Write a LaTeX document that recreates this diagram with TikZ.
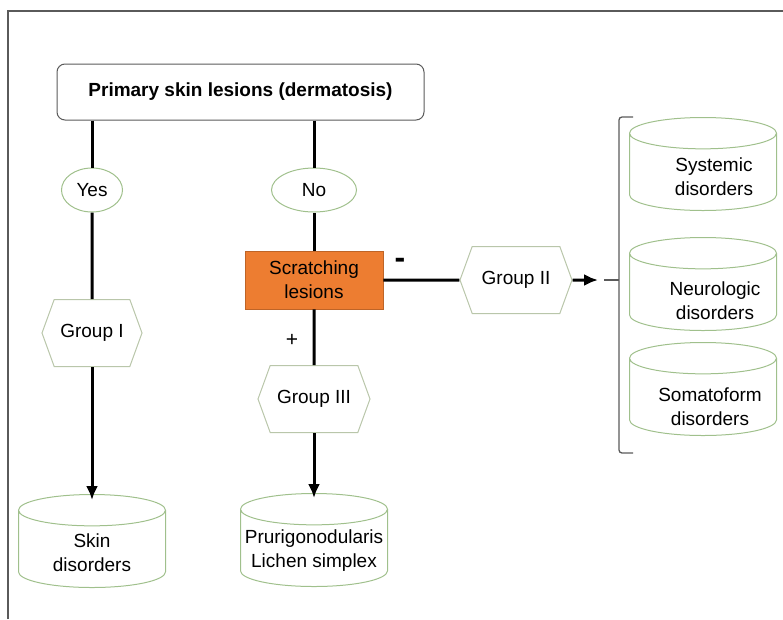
\documentclass[tikz,border=0pt]{standalone}
\usepackage{fontspec}
\setmainfont{Liberation Sans}
\usetikzlibrary{arrows.meta}
\usetikzlibrary{shapes.geometric}
\usetikzlibrary{shapes.symbols}
\tikzset{->/.style = {-{Latex[length=14pt, width=12pt]}}}
\definecolor{mgreen}{RGB}{160, 192, 140}
\definecolor{mhex}{RGB}{185, 198, 170}
\definecolor{morange}{RGB}{237, 125, 49}
\definecolor{mframe}{RGB}{90, 90, 90}
\tikzset{link/.style = {line width=3pt}}
\tikzset{titlebox/.style = {draw=mframe, line width=1pt, rounded corners=8pt,
                            minimum width=367pt, minimum height=56pt}}
\tikzset{answer/.style = {ellipse, draw=mgreen, line width=1pt, minimum height=44pt}}
\tikzset{groupbox/.style = {signal, signal to=west and east, signal pointer angle=140,
                            draw=mhex, line width=1pt, minimum height=67pt}}
\tikzset{scratch/.style = {fill=morange, draw=morange!80!black, line width=0.6pt,
                           minimum width=138pt, minimum height=58pt, align=center}}
\tikzset{cyl/.style = {cylinder, shape border rotate=90, aspect=4.7, draw=mgreen,
                       line width=1pt, minimum width=147pt, minimum height=93pt,
                       anchor=shape center}}
\tikzset{bracket/.style = {draw=mframe, line width=1.3pt}}

\begin{document}
\begin{tikzpicture}[x=1pt, y=-1pt, font=\fontsize{19}{24}\selectfont]
      \useasboundingbox (0,0) rectangle (783,619);
      \draw [mframe, line width=2pt] (8,619) -- (8,11) -- (783,11);

      \node [titlebox] (prim) at (240.5,92) {\textbf{Primary skin lesions (dermatosis)}};
      \node [answer, minimum width=61pt] (yes) at (92,190) {Yes};
      \node [answer, minimum width=85pt] (no) at (314,190) {No};
      \node [groupbox, minimum width=100pt] (g1) at (92,333) {Group I};
      \node [scratch] (scr) at (314,280) {Scratching\\lesions};
      \node [groupbox, minimum width=112pt] (g3) at (314,399) {Group III};
      \node [groupbox, minimum width=112pt] (g2) at (516,280) {Group II};

      \node [cyl, label={[name=skintxt, align=center, yshift=-1pt]center:Skin\\disorders}] (skin) at (92,541) {};
      \node [cyl, label={[name=prurtxt, align=center]center:Prurigonodularis\\Lichen simplex}] (prur) at (314,540) {};
      \node [cyl, label={[name=systxt, align=center, xshift=11pt, yshift=-2pt]center:Systemic\\disorders}] (sys) at (703,164) {};
      \node [cyl, label={[name=neutxt, align=center, xshift=12pt, yshift=-6pt]center:Neurologic\\disorders}] (neu) at (703,284) {};
      \node [cyl, label={[name=somtxt, align=center, xshift=7pt, yshift=-7pt]center:Somatoform\\disorders}] (som) at (703,389) {};

      \node (minus) at (400,263) {\fontsize{32}{32}\selectfont\textbf{-}};
      \node (plus) at (292,340) {\fontsize{21}{21}\selectfont +};

      \draw [link] (prim.south -| yes) -- (yes.north);
      \draw [link] (yes) -- (g1);
      \draw [link, ->] (g1) -- ([yshift=-6pt]skin.north);
      \draw [link] (prim.south -| no) -- (no.north);
      \draw [link] (no) -- (scr);
      \draw [link] (scr) -- (g3);
      \draw [link, ->] (g3) -- ([yshift=-5pt]prur.north);
      \draw [link] (scr) -- (g2);

      \coordinate (tip) at (598,280);
      \coordinate (nub) at (604,280);
      \draw [link, ->] (g2) -- (tip);
      \draw [bracket, rounded corners=3pt] (633,117) -- (619,117) -- (619,453) -- (633,453);
      \draw [bracket] (nub) -- (619,280);
    \end{tikzpicture}
\end{document}
